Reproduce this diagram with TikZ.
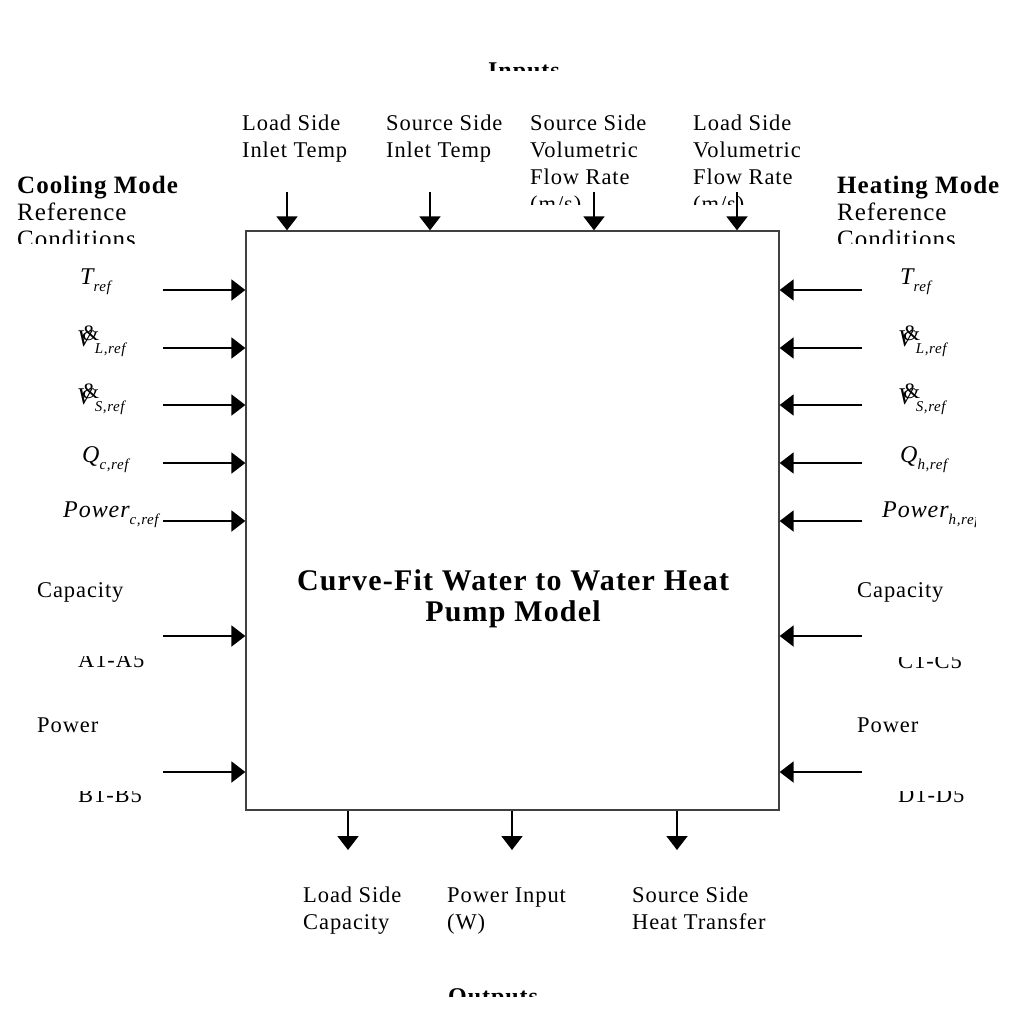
\documentclass[tikz,border=0pt]{standalone}
\usepackage{fontspec}
\setmainfont{Liberation Serif}[LetterSpace=4]
\usetikzlibrary{arrows.meta}
\newcommand\sbs[2]{{\itshape #1}\raisebox{-7pt}{\fontsize{15}{15}\selectfont\itshape #2}}
\newcommand\vdt[1]{\rlap{\hspace{5pt}\raisebox{6pt}{\fontsize{22}{22}\selectfont\&}}{\itshape V}\hspace{3pt}\raisebox{-7pt}{\fontsize{15}{15}\selectfont\itshape #1}}
\begin{document}
\begin{tikzpicture}[x=1pt,y=-1pt,
  txt/.style={inner sep=0pt, anchor=base west, align=left, font=\fontsize{22.5}{27}\selectfont},
  bld/.style={inner sep=0pt, anchor=base west, align=left, font=\fontsize{25}{27}\selectfont\bfseries},
  hdr/.style={inner sep=0pt, anchor=base west, font=\fontsize{24}{27}\selectfont\bfseries},
  sym/.style={inner sep=0pt, anchor=base west, font=\fontsize{24}{27}\selectfont},
  arr/.style={line width=2pt, -{Triangle[length=14pt,width=21pt]}},
  boxst/.style={draw=black!75, line width=1.3pt, minimum width=533pt, minimum height=579pt, inner sep=0pt}]
\useasboundingbox (0,0) rectangle (1025,1023);
\fill[white] (0,0) rectangle (1025,1023);
% main block
\node[boxst] (box) at (512.5,520.5) {};
\node[inner sep=0pt, align=center, font=\fontsize{30}{31}\selectfont\bfseries] (title) at (513,599) {Curve-Fit Water to Water Heat\\Pump Model};
% headers
\begin{scope}\clip (400,0) rectangle (650,70);
\node[hdr] (inputs) at (488,78) {Inputs};
\end{scope}
\begin{scope}\clip (400,900) rectangle (650,996);
\node[hdr] (outputs) at (448,1004) {Outputs};
\end{scope}
% top inputs (base anchor = last line)
\node[txt] (in1) at (242,157) {Load Side\\Inlet Temp};
\node[txt] (in2) at (386,157) {Source Side\\Inlet Temp};
\begin{scope}\clip (520,90) rectangle (690,204);
\node[txt] (in3) at (530,211) {Source Side\\Volumetric\\Flow Rate\\(m/s)};
\end{scope}
\begin{scope}\clip (685,90) rectangle (830,204);
\node[txt] (in4) at (693,211) {Load Side\\Volumetric\\Flow Rate\\(m/s)};
\end{scope}
% mode headings
\begin{scope}\clip (0,150) rectangle (240,243);
\node[bld] (cool) at (17,247) {Cooling Mode\\\mdseries Reference\\\mdseries Conditions};
\end{scope}
\begin{scope}\clip (830,150) rectangle (1025,243);
\node[bld] (heat) at (837,247) {Heating Mode\\\mdseries Reference\\\mdseries Conditions};
\end{scope}
% left symbols
\node[sym] (cT) at (80,284) {\sbs{T}{ref}};
\node[sym] (cVL) at (77,346) {\vdt{L,ref}};
\node[sym] (cVS) at (77,404) {\vdt{S,ref}};
\node[sym] (cQ) at (82,462) {\sbs{Q}{c,ref}};
\begin{scope}\clip (40,490) rectangle (163,540);
\node[sym] (cP) at (63,517) {\sbs{Power}{c,ref}};
\end{scope}
% right symbols
\node[sym] (hT) at (900,284) {\sbs{T}{ref}};
\node[sym] (hVL) at (898,346) {\vdt{L,ref}};
\node[sym] (hVS) at (898,404) {\vdt{S,ref}};
\node[sym] (hQ) at (900,462) {\sbs{Q}{h,ref}};
\begin{scope}\clip (870,490) rectangle (975,540);
\node[sym] (hP) at (882,517) {\sbs{Power}{h,ref}};
\end{scope}
% coefficients
\begin{scope}\clip (0,570) rectangle (240,606);
\node[txt] (cCap) at (37,624) {Capacity\\Coefficients};
\end{scope}
\begin{scope}\clip (0,705) rectangle (240,742);
\node[txt] (cPow) at (37,759) {Power\\Coefficients};
\end{scope}
\begin{scope}\clip (830,570) rectangle (1025,607.5);
\node[txt] (hCap) at (857,624) {Capacity\\Coefficients};
\end{scope}
\begin{scope}\clip (830,705) rectangle (1025,742.5);
\node[txt] (hPow) at (857,759) {Power\\Coefficients};
\end{scope}
\begin{scope}\clip (0,656) rectangle (240,690);
\node[txt] (cA) at (78,667) {A1-A5};
\end{scope}
\begin{scope}\clip (0,791) rectangle (240,830);
\node[txt] (cB) at (78,802) {B1-B5};
\end{scope}
\begin{scope}\clip (830,657) rectangle (1025,690);
\node[txt] (hC) at (898,668) {C1-C5};
\end{scope}
\begin{scope}\clip (830,791) rectangle (1025,830);
\node[txt] (hD) at (898,802) {D1-D5};
\end{scope}
% outputs
\node[txt] (o1) at (303,929) {Load Side\\Capacity};
\node[txt] (o2) at (447,929) {Power Input\\(W)};
\node[txt] (o3) at (632,929) {Source Side\\Heat Transfer};
% arrow tails
\coordinate (t1) at (287,192);
\coordinate (t2) at (430,192);
\coordinate (t3) at (594,192);
\coordinate (t4) at (737,192);
\foreach \n in {t1,t2,t3,t4} \draw[arr] (\n) -- (\n |- box.north);
\foreach \i/\y in {1/290,2/348,3/405,4/463,5/521,6/636,7/772} {
  \coordinate (l\i) at (163,\y);
  \coordinate (r\i) at (862,\y);
  \draw[arr] (l\i) -- (l\i -| box.west);
  \draw[arr] (r\i) -- (r\i -| box.east);
}
\coordinate (b1) at (348,850);
\coordinate (b2) at (512,850);
\coordinate (b3) at (677,850);
\foreach \n in {b1,b2,b3} \draw[arr] (\n |- box.south) -- (\n);
\end{tikzpicture}
\end{document}
